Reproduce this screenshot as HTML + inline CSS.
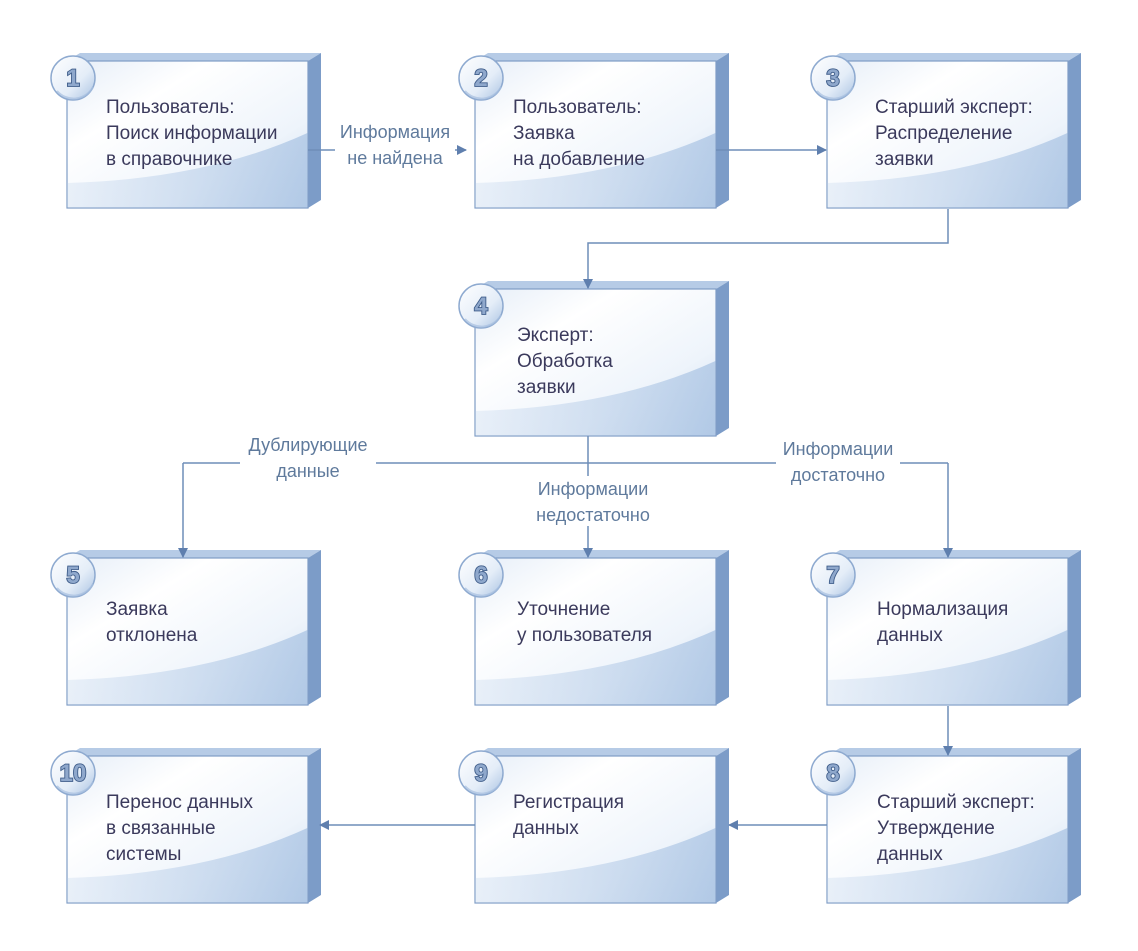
<!DOCTYPE html>
<html><head><meta charset="utf-8"><style>
html,body{margin:0;padding:0;background:#fff}
svg{display:block}
.t{font-family:"Liberation Sans","DejaVu Sans",sans-serif;font-size:19px;fill:#3b3a5c}
.l{font-family:"Liberation Sans","DejaVu Sans",sans-serif;font-size:18px;fill:#5f7a9c}
.n{font-family:"Liberation Sans","DejaVu Sans",sans-serif;font-size:24px;font-weight:bold;fill:#8fa8cc;stroke:#3f5d8a;stroke-width:1.8;paint-order:stroke}
</style></head><body>
<svg width="1138" height="951" viewBox="0 0 1138 951" xmlns="http://www.w3.org/2000/svg">
<defs>
<linearGradient id="fg" x1="0" y1="0" x2="1" y2="1">
<stop offset="0" stop-color="#e6eef8"/><stop offset="0.3" stop-color="#ffffff"/><stop offset="0.7" stop-color="#eef4fb"/><stop offset="1" stop-color="#c9daee"/>
</linearGradient>
<linearGradient id="bg" x1="0" y1="0" x2="1" y2="0">
<stop offset="0" stop-color="#e3ecf7"/><stop offset="1" stop-color="#a9c3e3"/>
</linearGradient>
<linearGradient id="cg" x1="0" y1="0" x2="1" y2="1">
<stop offset="0" stop-color="#ffffff"/><stop offset="0.6" stop-color="#e4edf8"/><stop offset="1" stop-color="#a9c2e2"/>
</linearGradient>
<marker id="a" markerWidth="10" markerHeight="10" refX="9" refY="5" orient="auto" markerUnits="userSpaceOnUse">
<path d="M0,0 L10,5 L0,10 z" fill="#5f7fae"/>
</marker>
<g id="box">
<path d="M0,0 L13,-8 L254,-8 L241,0 z" fill="#b6cbe6"/>
<path d="M241,0 L254,-8 L254,139 L241,147 z" fill="#7c9cc8"/>
<rect x="0" y="0" width="241" height="147" fill="url(#fg)" stroke="#7f9dc6" stroke-width="1.2"/>
<path d="M0.6,122 Q140,118 240.4,72 L240.4,146.4 L0.6,146.4 z" fill="url(#bg)" opacity="0.75"/>
<circle cx="6" cy="17" r="22" fill="url(#cg)" stroke="#8eaad0" stroke-width="1.5"/>
<path d="M-10,30 A22,22 0 0 0 26,26" fill="none" stroke="#a6bfe0" stroke-width="2" opacity="0.7"/>
</g>
</defs>

<use href="#box" x="67" y="61"/>
<use href="#box" x="475" y="61"/>
<use href="#box" x="827" y="61"/>
<use href="#box" x="475" y="289"/>
<use href="#box" x="67" y="558"/>
<use href="#box" x="475" y="558"/>
<use href="#box" x="827" y="558"/>
<use href="#box" x="67" y="756"/>
<use href="#box" x="475" y="756"/>
<use href="#box" x="827" y="756"/>

<g fill="none" stroke="#6e8db8" stroke-width="1.5">
<path d="M308,150 L466,150" marker-end="url(#a)"/>
<path d="M716,150 L826,150" marker-end="url(#a)"/>
<path d="M948,209 L948,243 L588,243 L588,288" marker-end="url(#a)"/>
<path d="M588,436 L588,557" marker-end="url(#a)"/>
<path d="M183,463 L948,463"/>
<path d="M183,463 L183,557" marker-end="url(#a)"/>
<path d="M948,463 L948,557" marker-end="url(#a)"/>
<path d="M948,706 L948,755" marker-end="url(#a)"/>
<path d="M827,825 L729,825" marker-end="url(#a)"/>
<path d="M475,825 L320,825" marker-end="url(#a)"/>
</g>
<rect x="335" y="120" width="120" height="48" fill="#fff"/>
<rect x="240" y="432" width="136" height="50" fill="#fff"/>
<rect x="530" y="476" width="122" height="50" fill="#fff"/>
<rect x="776" y="436" width="124" height="50" fill="#fff"/>
<text class="l" x="395" y="138" text-anchor="middle">Информация</text>
<text class="l" x="395" y="164" text-anchor="middle">не найдена</text>
<text class="l" x="308" y="451" text-anchor="middle">Дублирующие</text>
<text class="l" x="308" y="477" text-anchor="middle">данные</text>
<text class="l" x="593" y="495" text-anchor="middle">Информации</text>
<text class="l" x="593" y="521" text-anchor="middle">недостаточно</text>
<text class="l" x="838" y="455" text-anchor="middle">Информации</text>
<text class="l" x="838" y="481" text-anchor="middle">достаточно</text>

<text class="n" x="73" y="86" text-anchor="middle">1</text>
<text class="n" x="481" y="86" text-anchor="middle">2</text>
<text class="n" x="833" y="86" text-anchor="middle">3</text>
<text class="n" x="481" y="314" text-anchor="middle">4</text>
<text class="n" x="73" y="583" text-anchor="middle">5</text>
<text class="n" x="481" y="583" text-anchor="middle">6</text>
<text class="n" x="833" y="583" text-anchor="middle">7</text>
<text class="n" x="73" y="781" text-anchor="middle">10</text>
<text class="n" x="481" y="781" text-anchor="middle">9</text>
<text class="n" x="833" y="781" text-anchor="middle">8</text>

<text class="t" x="106" y="113">Пользователь:</text>
<text class="t" x="106" y="139">Поиск информации</text>
<text class="t" x="106" y="165">в справочнике</text>
<text class="t" x="513" y="113">Пользователь:</text>
<text class="t" x="513" y="139">Заявка</text>
<text class="t" x="513" y="165">на добавление</text>
<text class="t" x="875" y="113">Старший эксперт:</text>
<text class="t" x="875" y="139">Распределение</text>
<text class="t" x="875" y="165">заявки</text>
<text class="t" x="517" y="341">Эксперт:</text>
<text class="t" x="517" y="367">Обработка</text>
<text class="t" x="517" y="393">заявки</text>
<text class="t" x="106" y="615">Заявка</text>
<text class="t" x="106" y="641">отклонена</text>
<text class="t" x="517" y="615">Уточнение</text>
<text class="t" x="517" y="641">у пользователя</text>
<text class="t" x="877" y="615">Нормализация</text>
<text class="t" x="877" y="641">данных</text>
<text class="t" x="106" y="808">Перенос данных</text>
<text class="t" x="106" y="834">в связанные</text>
<text class="t" x="106" y="860">системы</text>
<text class="t" x="513" y="808">Регистрация</text>
<text class="t" x="513" y="834">данных</text>
<text class="t" x="877" y="808">Старший эксперт:</text>
<text class="t" x="877" y="834">Утверждение</text>
<text class="t" x="877" y="860">данных</text>
</svg>
</body></html>
